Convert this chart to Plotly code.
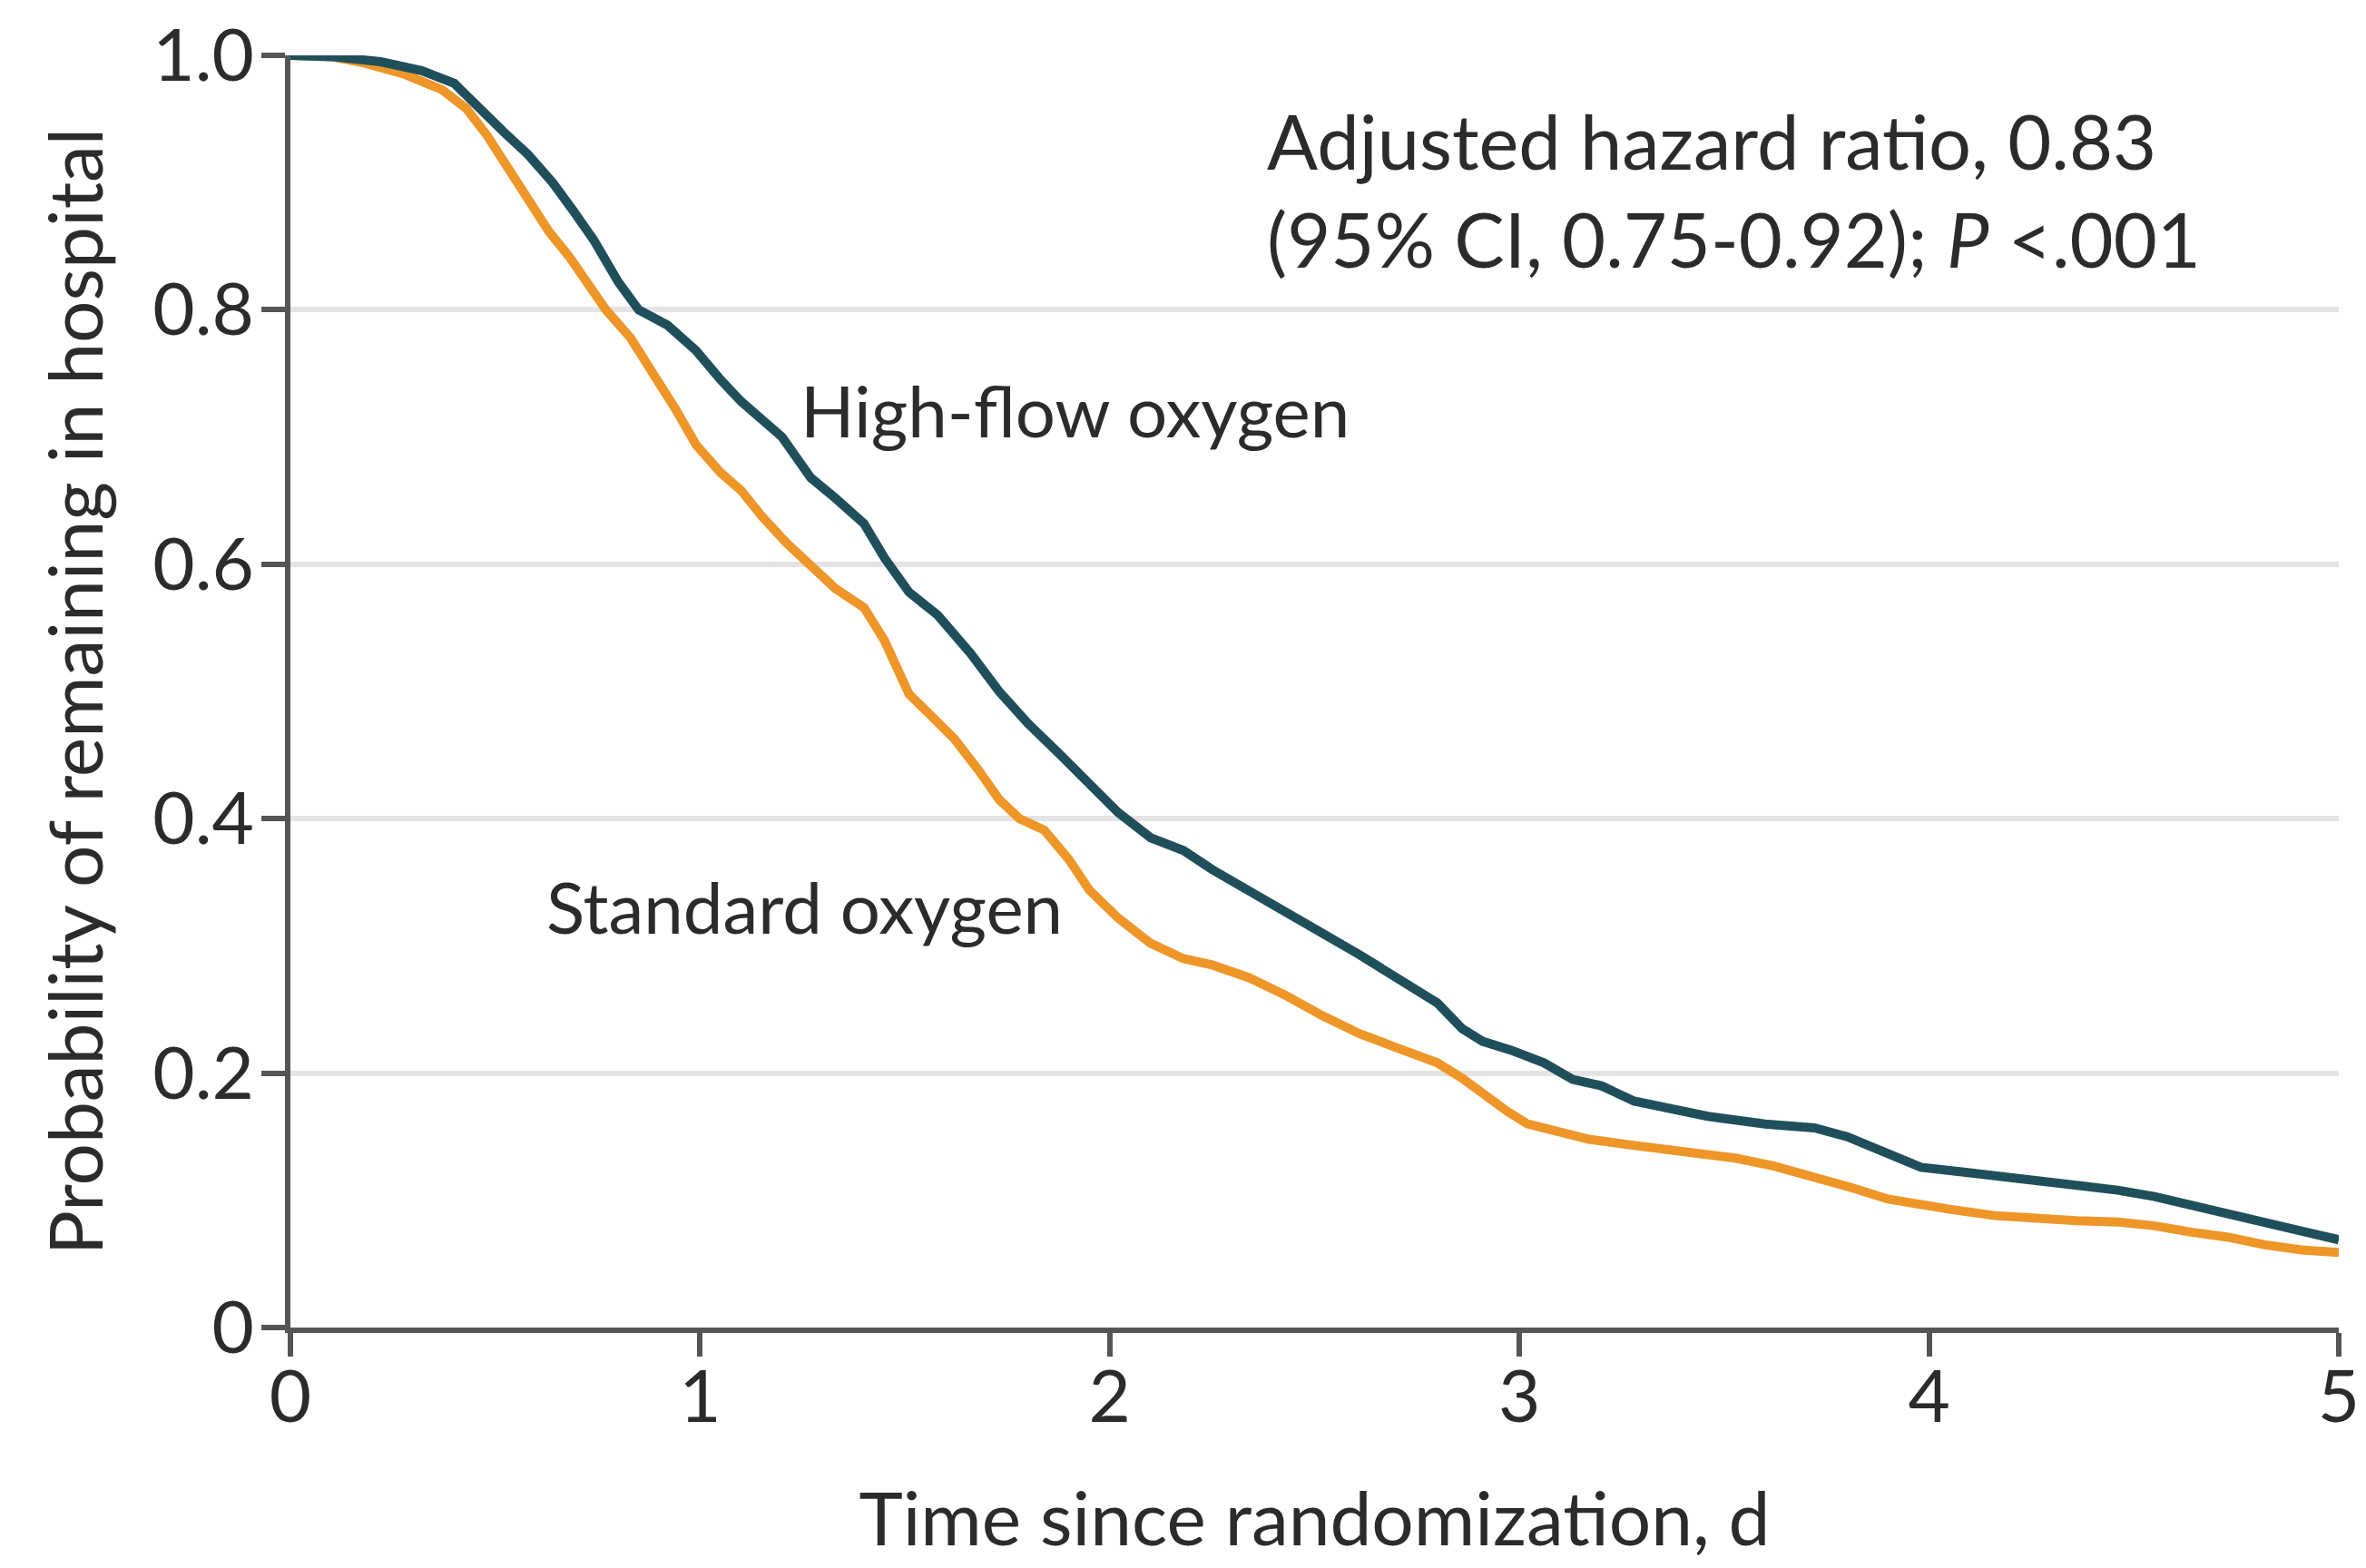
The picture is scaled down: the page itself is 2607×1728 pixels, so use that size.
import plotly.graph_objects as go

# Kaplan-Meier style curves
t_high = [0, 0.10, 0.22, 0.32, 0.40, 0.46, 0.52, 0.58, 0.64, 0.69, 0.74, 0.80, 0.85, 0.92, 0.99,
          1.05, 1.10, 1.20, 1.27, 1.33, 1.40, 1.45, 1.51, 1.58, 1.66, 1.73, 1.80,
          1.88, 1.95, 2.02, 2.10, 2.18, 2.25, 2.33, 2.43, 2.52, 2.61, 2.70, 2.80, 2.86, 2.91,
          2.98, 3.06, 3.13, 3.20, 3.28, 3.37, 3.46, 3.60, 3.72, 3.80, 3.87, 3.93, 3.98,
          4.09, 4.18, 4.27, 4.36, 4.46, 4.55, 4.64, 4.73, 4.82, 4.91, 5.0]
p_high = [1.0, 0.999, 0.995, 0.988, 0.978, 0.958, 0.94, 0.922, 0.90, 0.878, 0.855, 0.822, 0.80,
          0.788, 0.768, 0.745, 0.728, 0.700, 0.668, 0.652, 0.632, 0.605, 0.578, 0.560, 0.530,
          0.500, 0.475, 0.450, 0.428, 0.405, 0.385, 0.375, 0.360, 0.345, 0.328, 0.310, 0.293,
          0.275, 0.255, 0.235, 0.225, 0.218, 0.208, 0.195, 0.190, 0.178, 0.172, 0.166, 0.160,
          0.157, 0.150, 0.140, 0.132, 0.126, 0.122, 0.119, 0.115, 0.112, 0.108, 0.103, 0.096,
          0.090, 0.082, 0.076, 0.069]

t_std = [0, 0.10, 0.18, 0.28, 0.37, 0.43, 0.48, 0.53, 0.57, 0.63, 0.68, 0.73, 0.77, 0.83, 0.88,
         0.94, 0.99, 1.05, 1.10, 1.15, 1.21, 1.27, 1.33, 1.40, 1.45, 1.51, 1.57, 1.62,
         1.68, 1.73, 1.78, 1.84, 1.90, 1.95, 2.02, 2.10, 2.18, 2.25, 2.34, 2.43, 2.52, 2.61,
         2.70, 2.80, 2.86, 2.91, 2.97, 3.02, 3.10, 3.17, 3.26, 3.35, 3.44, 3.53, 3.62, 3.72,
         3.81, 3.90, 3.98, 4.05, 4.16, 4.27, 4.36, 4.46, 4.55, 4.64, 4.73, 4.82, 4.91, 5.0]
p_std = [1.0, 0.999, 0.994, 0.985, 0.973, 0.958, 0.937, 0.912, 0.89, 0.862, 0.842, 0.818, 0.80,
         0.778, 0.753, 0.722, 0.694, 0.672, 0.658, 0.638, 0.617, 0.598, 0.581, 0.566, 0.540,
         0.498, 0.478, 0.463, 0.438, 0.415, 0.400, 0.391, 0.368, 0.344, 0.322, 0.302, 0.290,
         0.285, 0.275, 0.261, 0.245, 0.231, 0.220, 0.208, 0.196, 0.184, 0.170, 0.160, 0.153,
         0.148, 0.144, 0.140, 0.136, 0.133, 0.127, 0.119, 0.110, 0.101, 0.096, 0.093, 0.088,
         0.085, 0.084, 0.083, 0.080, 0.075, 0.071, 0.065, 0.061, 0.059]

x_ticks = [0, 1, 2, 3, 4, 5]
x_ticklabels = ["0", "1", "2", "3", "4", "5"]
y_ticks = [0, 0.2, 0.4, 0.6, 0.8, 1.0]
y_ticklabels = ["0", "0.2", "0.4", "0.6", "0.8", "1.0"]

HIGH_COLOR = "#1f4f5b"
STD_COLOR = "#ef9629"
TEXT_COLOR = "#2b2b2b"
AXIS_COLOR = "#555555"
FONT = "Lato, Open Sans, sans-serif"

fig = go.Figure()
fig.add_trace(go.Scatter(x=t_std, y=p_std, mode="lines", name="Standard oxygen",
                         line=dict(color=STD_COLOR, width=10), cliponaxis=False))
fig.add_trace(go.Scatter(x=t_high, y=p_high, mode="lines", name="High-flow oxygen",
                         line=dict(color=HIGH_COLOR, width=10), cliponaxis=False))

fig.add_annotation(x=1.24, y=0.721, xref="x", yref="y", text="High-flow oxygen",
                   showarrow=False, xanchor="left", yanchor="middle",
                   font=dict(size=78, color=TEXT_COLOR, family=FONT))
fig.add_annotation(x=0.62, y=0.331, xref="x", yref="y", text="Standard oxygen",
                   showarrow=False, xanchor="left", yanchor="middle",
                   font=dict(size=78, color=TEXT_COLOR, family=FONT))
fig.add_annotation(x=2.38, y=0.97, xref="x", yref="y",
                   text="Adjusted hazard ratio, 0.83<br>(95% CI, 0.75-0.92); <i>P</i> <.001",
                   showarrow=False, xanchor="left", yanchor="top", align="left",
                   font=dict(size=83, color=TEXT_COLOR, family=FONT))

# page has an 8px body margin, so the figure is offset by 8px inside the window
fig.update_layout(
    width=2599, height=1712,
    margin=dict(l=312, r=30, t=53, b=257),
    paper_bgcolor="white", plot_bgcolor="white",
    showlegend=False,
    font=dict(family=FONT, color=TEXT_COLOR, size=80),
)
fig.update_xaxes(
    range=[0, 5], tickvals=x_ticks, ticktext=x_ticklabels, automargin=False,
    showline=True, linecolor=AXIS_COLOR, linewidth=6,
    ticks="outside", ticklen=26, tickwidth=6, tickcolor=AXIS_COLOR,
    ticklabelstandoff=-24, ticklabeloverflow="allow",
    showgrid=False, zeroline=False,
    tickfont=dict(size=80, color=TEXT_COLOR, family=FONT),
    title=dict(text="Time since randomization, d", font=dict(size=82, color=TEXT_COLOR, family=FONT),
               standoff=74),
)
fig.update_yaxes(
    range=[0, 1.0], tickvals=y_ticks, ticktext=y_ticklabels, automargin=False,
    showline=True, linecolor=AXIS_COLOR, linewidth=6,
    ticks="outside", ticklen=26, tickwidth=6, tickcolor=AXIS_COLOR,
    ticklabelstandoff=-8, ticklabeloverflow="allow",
    showgrid=True, gridcolor="#e4e4e4", gridwidth=6, zeroline=False,
    tickfont=dict(size=80, color=TEXT_COLOR, family=FONT),
    title=dict(text="Probability of remaining in hospital",
               font=dict(size=82, color=TEXT_COLOR, family=FONT), standoff=30),
)

fig.write_html("out.html")
